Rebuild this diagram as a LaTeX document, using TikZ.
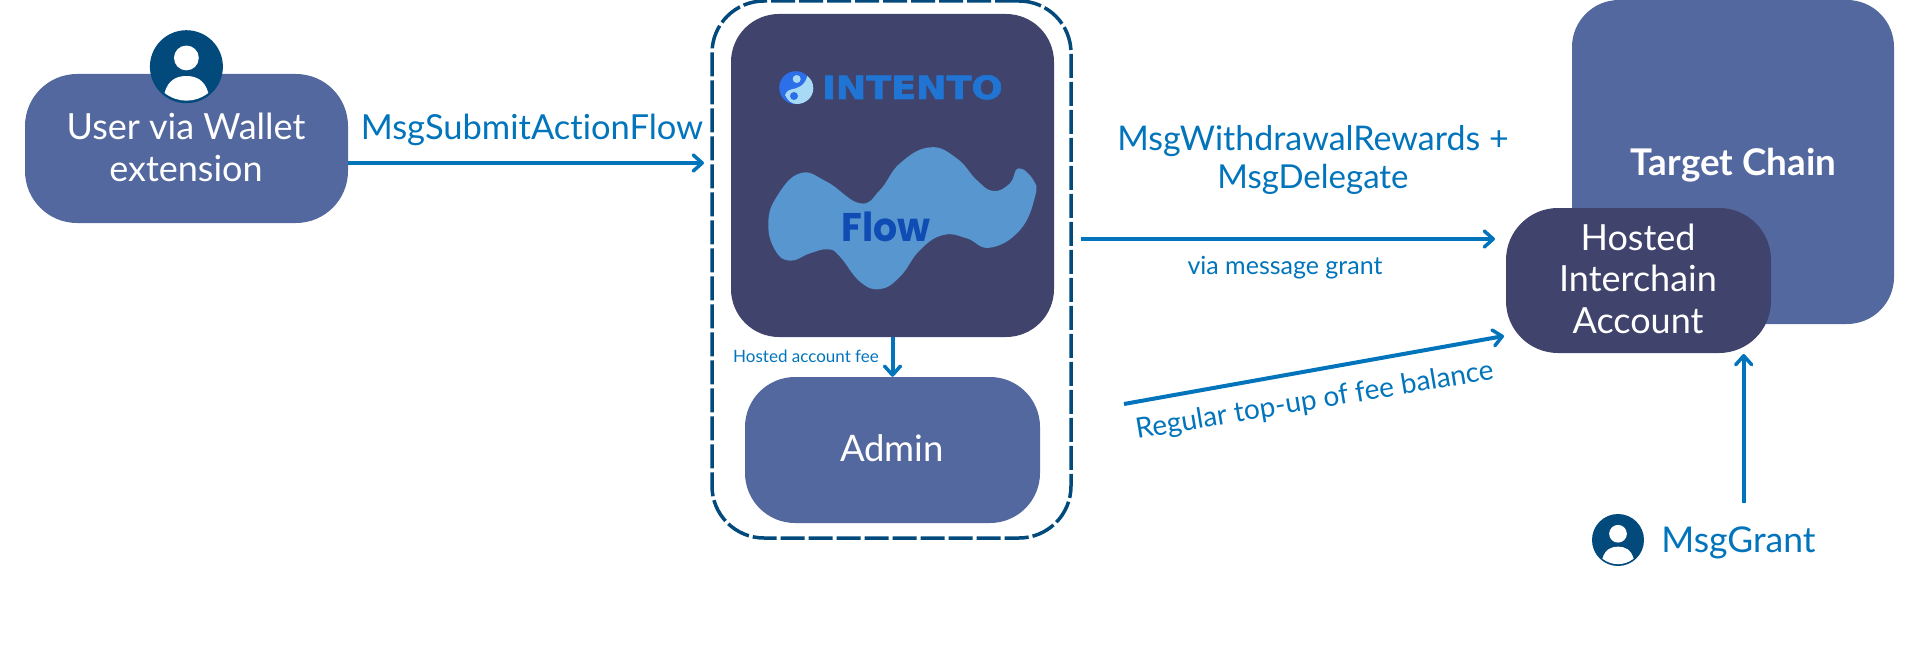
\documentclass[tikz,border=0pt]{standalone}
\usepackage{fontspec}
\setmainfont[Ligatures=NoCommon]{Lato}
\newfontfamily\logofont[BoldFeatures={FakeBold=2}]{DejaVu Sans}
\newfontfamily\flowfont{Poppins}
\usetikzlibrary{arrows.meta,positioning}
\definecolor{boxblue}{HTML}{53689F}
\definecolor{boxdark}{HTML}{40446C}
\definecolor{navy}{HTML}{034A7C}
\definecolor{arrowblue}{HTML}{0274BB}
\definecolor{blobblue}{HTML}{5896CF}
\definecolor{flowblue}{HTML}{0F4DB5}
\definecolor{logoblue}{HTML}{1F74D4}
\definecolor{logodeep}{HTML}{2D6FE8}
\definecolor{logolight}{HTML}{A8DAF5}
\tikzset{
  box/.style={fill=boxblue,text=white,rounded corners=52pt,align=center,inner sep=0pt},
  boxtext/.style={text=white,inner sep=0pt,anchor=base,font=\fontsize{36}{40}\selectfont},
  msg/.style={text=arrowblue,inner sep=0pt,anchor=base,font=\fontsize{34.5}{40}\selectfont},
  flowarrow/.style={arrowblue,line width=4pt,-{Straight Barb[length=9pt,width=16pt,line width=3.5pt,round]}}
}
% person icon: circle centre x, y, radius
\newcommand{\personicon}[3]{
  \begin{scope}[shift={(#1,#2)},x=#3pt,y=-#3pt]
    \fill[white] (0,-0.24) circle (0.34);
    \fill[white] (-0.6,0.72) .. controls (-0.5,0.35) and (-0.25,0.255) .. (0,0.255)
      .. controls (0.25,0.255) and (0.5,0.35) .. (0.6,0.72)
      .. controls (0.4,0.87) and (0.2,0.93) .. (0,0.93)
      .. controls (-0.2,0.93) and (-0.4,0.87) .. (-0.6,0.72) -- cycle;
  \end{scope}
}
\begin{document}
\begin{tikzpicture}[x=1pt,y=-1pt]
  \useasboundingbox (0,0) rectangle (1920,650);

  % left box
  \node[box,minimum width=323pt,minimum height=149pt] (user) at (186.5,148.5) {};
  \node[boxtext] (userA) at (186,140) {User via Wallet};
  \node[boxtext] (userB) at (186,181.5) {extension};
  \node[circle,fill=navy,minimum size=73pt,inner sep=0pt] (userIcon) at (186.4,66.7) {};
  \personicon{186.4}{66.7}{36.5}

  % middle group
  \node[draw=navy,line width=3.5pt,dash pattern=on 24pt off 4pt,rounded corners=52pt,
    minimum width=359pt,minimum height=537pt,inner sep=0pt] (group) at (891.5,269.5) {};
  \node[box,fill=boxdark,rounded corners=48pt,minimum width=323pt,minimum height=323pt] (intento) at (892.5,175.5) {};
  \node[box,rounded corners=50pt,minimum width=295pt,minimum height=146pt] (admin) at (892.5,450) {};
  \node[boxtext,font=\fontsize{36.5}{40}\selectfont] (adminText) at (892,461) {Admin};

  % flow blob
  \fill[blobblue] plot[smooth cycle,tension=0.75] coordinates {
    (768.3,223.3) (776.7,196.7) (800,173.3) (826.7,181.7) (860,203.3) (880,190) (900,163.3)
    (930,147.3) (956.7,158.3) (976.7,180) (993.3,191) (1010,183.3) (1018.3,168.3) (1033.3,180)
    (1035,196.7) (1020,230) (990,247.7) (966.7,238.3) (943.3,235) (920,250) (900,276.7)
    (880,289) (860,281.7) (840,256.7) (828.3,249.3) (810,253.3) (790,260.7) (775,250)};
  \node[text=flowblue,font={\flowfont\bfseries\fontsize{40}{40}\selectfont},xscale=0.95,inner sep=0pt,anchor=base] (flow) at (886,241.7) {Flow};

  % logo
  \node[circle,fill=logodeep,minimum size=33pt,inner sep=0pt] (logo) at (795.7,87.7) {};
  \fill[logolight] (807.3,76) .. controls (811,79) and (813.3,83) .. (813.3,88.3)
    .. controls (813.3,97) and (806,104) .. (796.7,104)
    .. controls (792,104) and (788,101) .. (785,95)
    .. controls (787,91) and (789,89.5) .. (791.7,89.3)
    .. controls (797,88.5) and (805,86) .. (807.3,76) -- cycle;
  \fill[logolight] (796.7,79) circle (4);
  \fill[logodeep] (794,96) circle (4);
  \node[text=logoblue,font={\logofont\bfseries\fontsize{32}{32}\selectfont},xscale=1.14,inner sep=0pt,anchor=base] (intentoText) at (912.4,99) {INTENTO};

  % right boxes
  \node[box,rounded corners=47pt,minimum width=322pt,minimum height=324pt] (target) at (1733,162) {};
  \node[boxtext,font=\fontsize{36.8}{40}\selectfont\bfseries] (targetText) at (1733.5,175.5) {Target Chain};
  \node[box,fill=boxdark,minimum width=265pt,minimum height=145pt] (hosted) at (1638.5,280.5) {};
  \node[boxtext] (hostedA) at (1638,250) {Hosted};
  \node[boxtext] (hostedB) at (1638,291.5) {Interchain};
  \node[boxtext] (hostedC) at (1638,333) {Account};

  % arrows
  \coordinate (flowIn) at (704,163);
  \coordinate (rewardStart) at (1081,239);
  \coordinate (rewardEnd) at (1495,239);
  \coordinate (topStart) at (1124,404);
  \coordinate (topEnd) at (1504,336);
  \coordinate (grantStart) at (1743.7,503);
  \coordinate (grantEnd) at (1743.7,354);
  \draw[flowarrow] (user.east |- flowIn) -- (flowIn);
  \draw[flowarrow] (intento.south) -- (admin.north);
  \draw[flowarrow] (rewardStart) -- (rewardEnd);
  \draw[flowarrow] (topStart) -- (topEnd);
  \draw[flowarrow] (grantStart) -- (grantEnd);

  % labels
  \node[msg] (submitLabel) at (532,139.5) {MsgSubmitActionFlow};
  \node[msg,font=\fontsize{34}{40}\selectfont] (withdrawLabel) at (1313,150) {MsgWithdrawalRewards +};
  \node[msg,font=\fontsize{33}{40}\selectfont] (delegateLabel) at (1313,188) {MsgDelegate};
  \node[msg,font=\fontsize{25}{28}\selectfont] (viaLabel) at (1285,274) {via message grant};
  \node[msg,font=\fontsize{17}{20}\selectfont] (feeLabel) at (806,362) {Hosted account fee};
  \node[msg,font=\fontsize{28}{30}\selectfont,rotate=9.5] (topLabel) at (1316,409) {Regular top-up of fee balance};

  % grant
  \node[circle,fill=navy,minimum size=52pt,inner sep=0pt] (grantIcon) at (1618,540) {};
  \personicon{1618}{540}{26}
  \node[msg,font=\fontsize{35.5}{40}\selectfont] (grantLabel) at (1738.5,552) {MsgGrant};
\end{tikzpicture}
\end{document}
